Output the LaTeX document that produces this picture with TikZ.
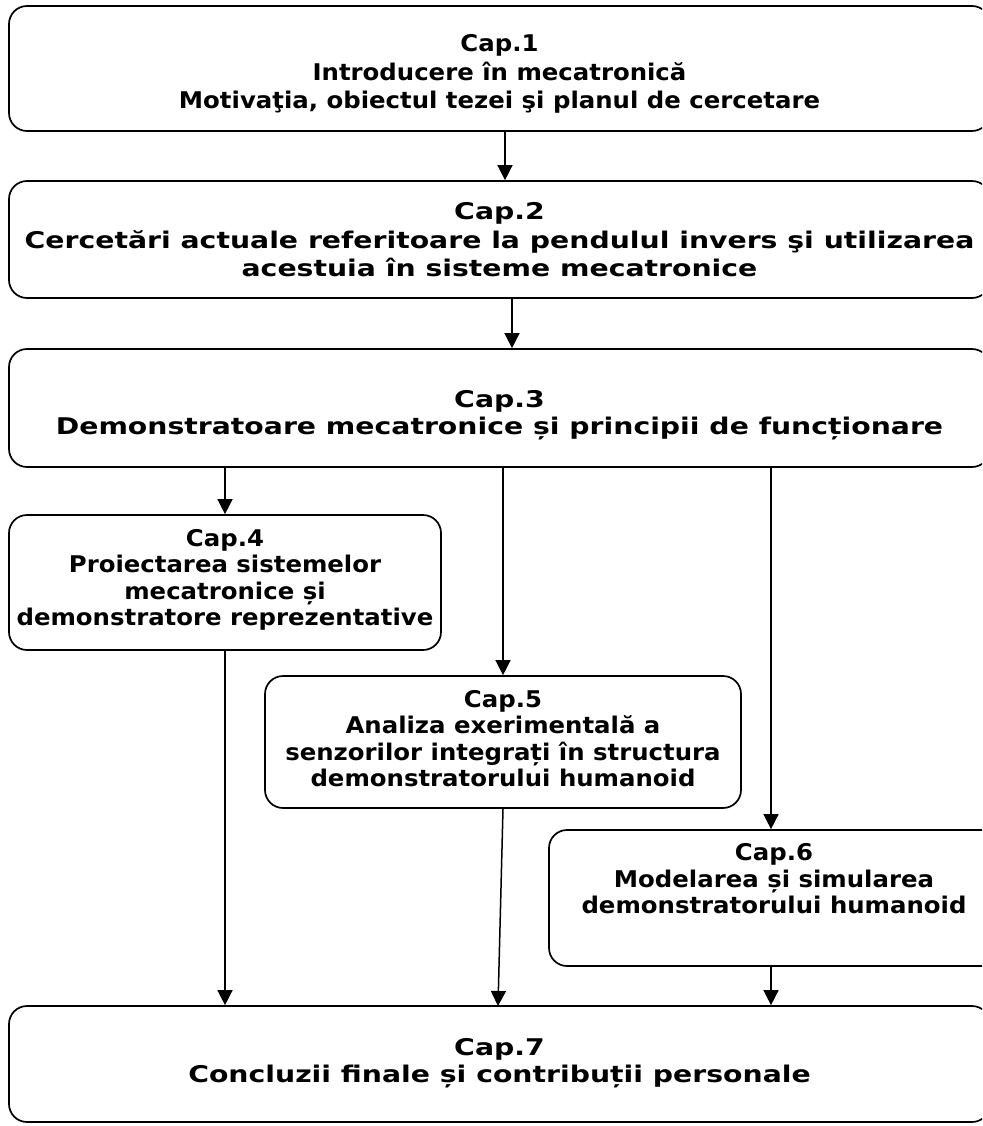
\documentclass[tikz,border=0pt]{standalone}
\usepackage{fontspec}
\setmainfont{DejaVu Sans}
\newfontfamily\fontnarrow{DejaVu Sans}[FakeStretch=1.06]
\newfontfamily\fontwide{DejaVu Sans}[FakeStretch=1.23]
\usetikzlibrary{arrows.meta}
\begin{document}
\begin{tikzpicture}[x=1pt,y=-1pt,
  box/.style={draw, line width=1.7pt, rounded corners=18pt, inner sep=0pt},
  txt/.style={align=center, inner sep=0pt},
  txtn/.style={txt, font=\fontnarrow\fontsize{23}{26.5}\selectfont\bfseries},
  txtw/.style={txt, font=\fontwide\fontsize{23}{26.5}\selectfont\bfseries},
  arr/.style={line width=1.5pt, -{Triangle[width=15pt,length=15pt]}}]
\useasboundingbox (0,0) rectangle (982,1126);
\clip (0,0) rectangle (982,1126);
% chapter frames
\node[box, minimum width=981pt, minimum height=125pt] (b1) at (499.5,68.5) {};
\node[box, minimum width=981pt, minimum height=117pt] (b2) at (499.5,239.5) {};
\node[box, minimum width=981pt, minimum height=118pt] (b3) at (499.5,408) {};
\node[box, minimum width=432pt, minimum height=135pt] (b4) at (225,582.5) {};
\node[box, minimum width=476pt, minimum height=132pt] (b5) at (503,742) {};
\node[box, minimum width=451pt, minimum height=136pt] (b6) at (774.5,898) {};
\node[box, minimum width=981pt, minimum height=116pt] (b7) at (499.5,1064) {};
% chapter titles
\node[txtn, font=\fontnarrow\fontsize{23}{28.5}\selectfont\bfseries] (t1) at (499.5,74) {Cap.1\\Introducere în mecatronică\\Motivaţia, obiectul tezei şi planul de cercetare};
\node[txtw, font=\fontwide\fontsize{23}{28.5}\selectfont\bfseries] (t2) at (499.5,240) {Cap.2\\Cercetări actuale referitoare la pendulul invers şi utilizarea\\acestuia în sisteme mecatronice};
\node[txtw] (t3) at (499.5,415) {Cap.3\\Demonstratoare mecatronice și principii de funcționare};
\node[txtn] (t4) at (225,580) {Cap.4\\Proiectarea sistemelor\\mecatronice și\\demonstratore reprezentative};
\node[txtn] (t5) at (503,738.5) {Cap.5\\Analiza exerimentală a\\senzorilor integrați în structura\\demonstratorului humanoid};
\node[txtn] (t6) at (774,879) {Cap.6\\Modelarea și simularea\\demonstratorului humanoid};
\node[txtw] (t7) at (499.5,1063) {Cap.7\\Concluzii finale și contribuții personale};
% links between chapters
\coordinate (e57) at (498,1006);
\draw[arr] ([xshift=5.5pt]b1.south) -- ([xshift=5.5pt]b2.north);
\draw[arr] ([xshift=12.5pt]b2.south) -- ([xshift=12.5pt]b3.north);
\draw[arr] (b3.south -| b4.north) -- (b4.north);
\draw[arr] (b3.south -| b5.north) -- (b5.north);
\draw[arr] ([xshift=-3.5pt]b3.south -| b6.north) -- ([xshift=-3.5pt]b6.north);
\draw[arr] (b4.south) -- (b4.south |- b7.north);
\draw[arr] (b5.south) -- (e57);
\draw[arr] ([xshift=-3.5pt]b6.south) -- ([xshift=-3.5pt]b6.south |- b7.north);
\end{tikzpicture}
\end{document}
